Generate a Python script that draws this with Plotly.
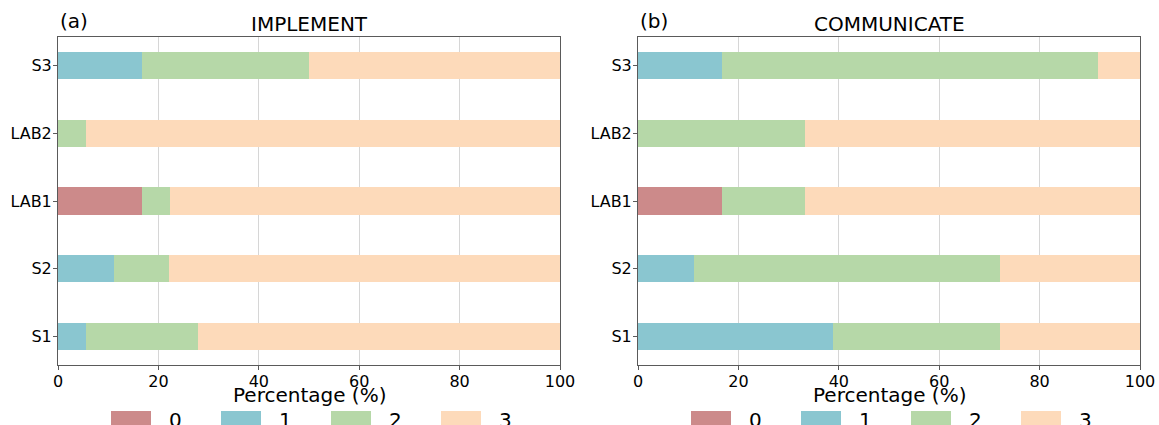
import plotly.graph_objects as go

# ---------------- data ----------------
categories = ["S1", "S2", "LAB1", "LAB2", "S3"]
levels = ["0", "1", "2", "3"]
colors = ["#CC8A8A", "#8AC6D0", "#B6D8A8", "#FDDABA"]

implement_0 = [0.0, 0.0, 16.7, 0.0, 0.0]
implement_1 = [5.6, 11.1, 0.0, 0.0, 16.7]
implement_2 = [22.2, 11.1, 5.6, 5.6, 33.3]
implement_3 = [72.2, 77.8, 77.7, 94.4, 50.0]

communicate_0 = [0.0, 0.0, 16.7, 0.0, 0.0]
communicate_1 = [38.9, 11.1, 0.0, 0.0, 16.7]
communicate_2 = [33.3, 61.1, 16.6, 33.3, 75.0]
communicate_3 = [27.8, 27.8, 66.7, 66.7, 8.3]

panel_titles = ["IMPLEMENT", "COMMUNICATE"]
panel_tags = ["(a)", "(b)"]
x_title = "Percentage (%)"

panels = [
    [implement_0, implement_1, implement_2, implement_3],
    [communicate_0, communicate_1, communicate_2, communicate_3],
]

# ---------------- layout geometry ----------------
W, H = 1159, 425
ML, MR, MT, MB = 58, 19, 37, 60
PW = W - ML - MR
PH = H - MT - MB


def px_x(px):
    return (px - ML) / PW


def px_y(py):
    return (H - MB - py) / PH


domains = [[0.0, px_x(560)], [px_x(638), 1.0]]
FONT = "DejaVu Sans"
AX_COLOR = "#5a5a5a"

fig = go.Figure()

for p, series in enumerate(panels):
    xa = "x" if p == 0 else "x2"
    ya = "y" if p == 0 else "y2"
    for lvl, vals, col in zip(levels, series, colors):
        fig.add_trace(go.Bar(
            y=categories, x=vals, orientation="h", name=lvl,
            marker=dict(color=col, line=dict(width=0)),
            width=0.4, showlegend=False, xaxis=xa, yaxis=ya,
        ))

axis_common = dict(
    showline=True, mirror=True, linecolor=AX_COLOR, linewidth=1,
    ticks="outside", ticklen=4, tickcolor=AX_COLOR, tickwidth=1,
    tickfont=dict(family=FONT, size=16, color="black"),
    zeroline=False,
)

for p in range(2):
    sfx = "" if p == 0 else "2"
    fig.layout["xaxis" + sfx] = dict(
        axis_common, domain=domains[p], range=[0, 100], dtick=20, tick0=0,
        showgrid=True, gridcolor="#d6d6d6", gridwidth=1,
        anchor="y" + sfx, ticklabelstandoff=-2,
    )
    fig.layout["yaxis" + sfx] = dict(
        axis_common, type="category", range=[-0.42, 4.42],
        categoryorder="array", categoryarray=categories,
        showgrid=False, anchor="x" + sfx, ticklabelstandoff=-2,
    )

annotations = []
shapes = []
for p in range(2):
    d0, d1 = domains[p]
    center = (d0 + d1) / 2
    annotations.append(dict(
        text=panel_titles[p], x=center, y=px_y(24), xref="paper", yref="paper",
        xanchor="center", yanchor="middle", showarrow=False,
        font=dict(family=FONT, size=20, color="black"),
    ))
    annotations.append(dict(
        text=panel_tags[p], x=d0, y=px_y(21), xref="paper", yref="paper",
        xanchor="left", yanchor="middle", showarrow=False,
        font=dict(family=FONT, size=20, color="black"),
    ))
    annotations.append(dict(
        text=x_title, x=center, y=px_y(395), xref="paper", yref="paper",
        xanchor="center", yanchor="middle", showarrow=False,
        font=dict(family=FONT, size=20, color="black"),
    ))
    # legend under each panel
    center_px = ML + center * PW
    start_px = center_px - 198
    for i, (lvl, col) in enumerate(zip(levels, colors)):
        x0 = start_px + 110 * i
        shapes.append(dict(
            type="rect", xref="paper", yref="paper",
            x0=px_x(x0), x1=px_x(x0 + 40), y0=px_y(411), y1=px_y(425),
            fillcolor=col, line=dict(width=0),
        ))
        annotations.append(dict(
            text=lvl, x=px_x(x0 + 56), y=px_y(420), xref="paper", yref="paper",
            xanchor="left", yanchor="middle", showarrow=False,
            font=dict(family=FONT, size=20, color="black"),
        ))

fig.update_layout(
    width=W, height=H,
    margin=dict(l=ML, r=MR, t=MT, b=MB, autoexpand=False),
    barmode="stack",
    plot_bgcolor="white", paper_bgcolor="white",
    font=dict(family=FONT, size=16, color="black"),
    annotations=annotations, shapes=shapes,
    showlegend=False,
)

fig.write_html(
    "out.html",
    config={"displayModeBar": False},
    post_script="document.body.style.margin='0';document.body.style.overflow='hidden';",
)
